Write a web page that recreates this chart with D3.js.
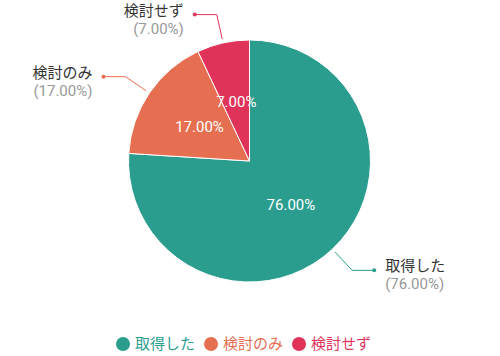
<!DOCTYPE html>
<html>
<head>
<meta charset="utf-8">
<script src="https://cdn.jsdelivr.net/npm/d3@7"></script>
<style>
  body { margin: 0; background: #fff; }
  text { font-family: Roboto, "Noto Sans CJK JP", sans-serif; }
</style>
</head>
<body>
<div id="chart"></div>
<script>
// data
const categories = ["取得した", "検討のみ", "検討せず"];
const values = [76, 17, 7];
const colors = ["#2a9d8f", "#e76f51", "#e0335a"];

const width = 500, height = 356;
const cx = 249.5, cy = 161, radius = 121;

const svg = d3.select("#chart").append("svg")
  .attr("width", width)
  .attr("height", height);

const data = categories.map((c, i) => ({ name: c, value: values[i], color: colors[i] }));
const total = d3.sum(values);
const fmt = v => (v / total * 100).toFixed(2) + "%";

const pie = d3.pie().value(d => d.value).sort(null);
const arcs = pie(data);
const arc = d3.arc().innerRadius(0).outerRadius(radius);

const g = svg.append("g").attr("transform", `translate(${cx},${cy})`);

g.selectAll("path.slice")
  .data(arcs)
  .join("path")
  .attr("class", "slice")
  .attr("d", arc)
  .attr("fill", d => d.data.color)
  .attr("stroke", "#fff")
  .attr("stroke-width", 1);

// inner labels
const inner = d3.arc().innerRadius(radius * 0.5).outerRadius(radius * 0.5);
g.selectAll("text.inner")
  .data(arcs)
  .join("text")
  .attr("class", "inner")
  .attr("transform", d => `translate(${inner.centroid(d)})`)
  .attr("text-anchor", "middle")
  .attr("dy", "0.35em")
  .attr("fill", "#fff")
  .attr("font-size", 15)
  .text(d => fmt(d.data.value));

// leader lines + outside labels
const r1 = radius + 4, r2 = 150;
const pt = (a, r) => [Math.sin(a) * r, -Math.cos(a) * r];

arcs.forEach(d => {
  const a = (d.startAngle + d.endAngle) / 2;
  const right = Math.sin(a) > 0;
  const p1 = pt(a, r1), p2 = pt(a, r2);
  const p3 = [p2[0] + (right ? 22 : -22), p2[1]];
  g.append("polyline")
    .attr("points", [p1, p2, p3].map(p => p.join(",")).join(" "))
    .attr("fill", "none")
    .attr("stroke", d.data.color)
    .attr("stroke-width", 1);
  g.append("circle")
    .attr("cx", p3[0]).attr("cy", p3[1]).attr("r", 2)
    .attr("fill", d.data.color);
  const tx = p3[0] + (right ? 11 : -11);
  const anchor = right ? "start" : "end";
  g.append("text")
    .attr("x", tx).attr("y", p3[1] + 1)
    .attr("text-anchor", anchor)
    .attr("font-size", 15)
    .attr("fill", "#333")
    .text(d.data.name);
  g.append("text")
    .attr("x", tx).attr("y", p3[1] + 19)
    .attr("text-anchor", anchor)
    .attr("font-size", 15)
    .attr("fill", "#999")
    .text("(" + fmt(d.data.value) + ")");
});

// legend
const legend = svg.append("g").attr("transform", "translate(0,344)");
let lx = 116;
data.forEach(d => {
  const item = legend.append("g").attr("transform", `translate(${lx},0)`);
  item.append("circle").attr("cx", 7).attr("cy", 0).attr("r", 7).attr("fill", d.color);
  const t = item.append("text")
    .attr("x", 19).attr("dy", "0.35em")
    .attr("font-size", 15)
    .attr("fill", d.color)
    .text(d.name);
  lx += 19 + t.node().getComputedTextLength() + 9;
});
</script>
</body>
</html>
